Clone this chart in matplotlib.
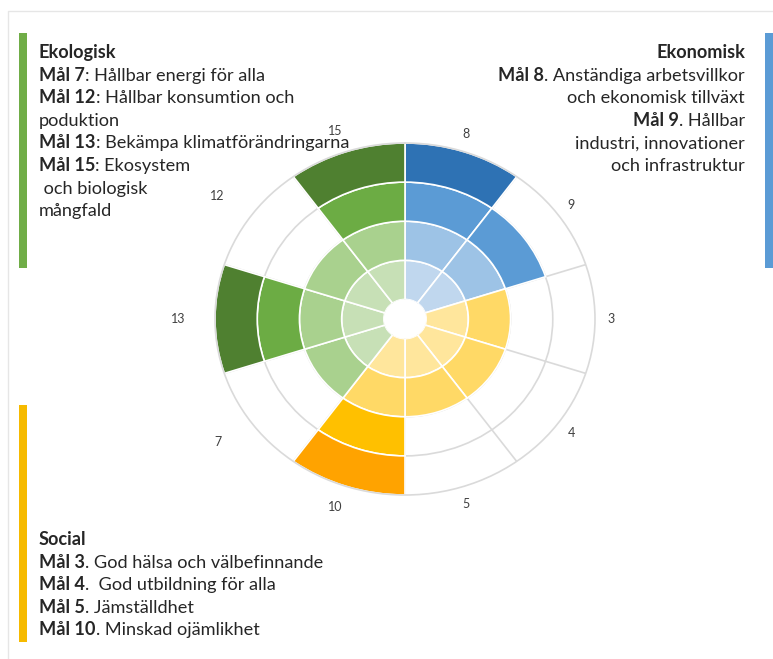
import matplotlib
matplotlib.use("Agg")
import matplotlib.pyplot as plt
import matplotlib.transforms as mtransforms
import numpy as np
from matplotlib.patches import Rectangle

# ---------------- data ----------------
goals = ["8", "9", "3", "4", "5", "10", "7", "13", "12", "15"]
levels = [4, 3, 2, 2, 2, 4, 2, 4, 2, 4]
groups = ["Ekonomisk", "Ekonomisk", "Social", "Social", "Social", "Social",
          "Ekologisk", "Ekologisk", "Ekologisk", "Ekologisk"]

palette = {
    "Ekonomisk": ["#c0d7ee", "#9dc3e6", "#5b9bd5", "#2e72b4"],
    "Social":    ["#ffe69c", "#ffd966", "#ffc000", "#ffa300"],
    "Ekologisk": ["#c7e0b6", "#a9d18e", "#6cac44", "#4f8030"],
}

eko_lines = [("Ekologisk", ""),
             ("Mål 7", ": Hållbar energi för alla"),
             ("Mål 12", ": Hållbar konsumtion och"),
             ("", "poduktion"),
             ("Mål 13", ": Bekämpa klimatförändringarna"),
             ("Mål 15", ": Ekosystem"),
             ("", " och biologisk"),
             ("", "mångfald")]

ekon_lines = [("Ekonomisk", ""),
              ("Mål 8", ". Anständiga arbetsvillkor"),
              ("", "och ekonomisk tillväxt"),
              ("Mål 9", ". Hållbar"),
              ("", "industri, innovationer"),
              ("", "och infrastruktur")]

soc_lines = [("Social", ""),
             ("Mål 3", ". God hälsa och välbefinnande"),
             ("Mål 4", ".  God utbildning för alla"),
             ("Mål 5", ". Jämställdhet"),
             ("Mål 10", ". Minskad ojämlikhet")]

# ---------------- figure ----------------
W, H = 773, 659
fig = plt.figure(figsize=(W / 100, H / 100), dpi=100)
fig.patch.set_facecolor("white")
FONT = "Lato"
TXT = "#262626"

# fit text size to the reference line width
renderer = fig.canvas.get_renderer()
probe = fig.text(0, 0, "Mål 3. God hälsa och välbefinnande", fontsize=10, family=FONT)
pw = probe.get_window_extent(renderer).width
probe.remove()
FS = 10 * 283 / pw

# ---------------- polar chart ----------------
cx, cy, rx, ry = 405, 319, 190, 176
ax = fig.add_axes([(cx - rx) / W, (H - cy - ry) / H, 2 * rx / W, 2 * ry / H],
                  projection="polar")
ax.set_aspect("auto")
ax.set_theta_zero_location("N")
ax.set_theta_direction(-1)

n = len(goals)
width = 2 * np.pi / n
centers = np.arange(n) * width + width / 2
hole = 0.5
rmax = max(levels) + hole

for c, v, g in zip(centers, levels, groups):
    for k in range(v):
        ax.bar(c, 1, width=width, bottom=hole + k, color=palette[g][k],
               edgecolor="white", linewidth=1.2, align="center", zorder=2)

ax.set_rorigin(0)
ax.set_ylim(hole, rmax)
ax.set_rticks(np.arange(hole + 1, rmax, 1))
ax.set_yticklabels([])
ax.set_xticks(np.arange(n) * width)
ax.set_xticklabels([])
ax.tick_params(length=0)
ax.set_axisbelow(True)
ax.grid(True, color="#dadada", linewidth=1.2)
ax.spines["polar"].set_color("#dadada")
ax.spines["polar"].set_linewidth(1.2)
ax.spines["inner"].set_color("white")
ax.spines["inner"].set_linewidth(0)
ax.patch.set_facecolor("white")

lab_tr = mtransforms.offset_copy(ax.transData, fig=fig, x=-4, y=0, units="dots")
for c, lab in zip(centers, goals):
    s2 = max(0.0, -np.sin(c)) ** 2
    r_lab = 4.98 + 0.3 * s2 + 0.5 * s2 * abs(np.cos(c))
    ax.text(c, r_lab, lab, ha="center", va="center", fontsize=9, family=FONT,
            color="#404040", clip_on=False, transform=lab_tr)

# ---------------- overlay (pixel coords) ----------------
ov = fig.add_axes([0, 0, 1, 1], zorder=5)
ov.set_xlim(0, W)
ov.set_ylim(H, 0)
ov.axis("off")

ov.plot([8, 8, W], [H, 11, 11], color="#e6e6e6", lw=1)
ov.add_patch(Rectangle((19, 33), 8, 235, color="#70ad47", lw=0))
ov.add_patch(Rectangle((765, 33), 9, 235, color="#5b9bd5", lw=0))
ov.add_patch(Rectangle((19, 405), 8, 237, color="#f6ba00", lw=0))


def put_line(x, y, bold, rest, align):
    kw = dict(fontsize=FS, family=FONT, color=TXT, va="baseline")
    if align == "left":
        if bold:
            t = ov.text(x, y, bold, ha="left", fontweight="bold", **kw)
            if rest:
                ov.annotate(rest, xy=(1, y), xycoords=(t, "data"), ha="left", **kw)
        else:
            ov.text(x, y, rest, ha="left", **kw)
    else:
        if rest:
            t = ov.text(x, y, rest, ha="right", **kw)
            if bold:
                ov.annotate(bold, xy=(0, y), xycoords=(t, "data"), ha="right",
                            fontweight="bold", **kw)
        else:
            ov.text(x, y, bold, ha="right", fontweight="bold", **kw)


pitch = 22.6
for i, (b, r) in enumerate(eko_lines):
    put_line(39, 58 + i * pitch, b, r, "left")
for i, (b, r) in enumerate(ekon_lines):
    put_line(745, 58 + i * pitch, b, r, "right")
for i, (b, r) in enumerate(soc_lines):
    put_line(39, 545 + i * pitch, b, r, "left")

fig.savefig("out.png", dpi=100, facecolor="white")
